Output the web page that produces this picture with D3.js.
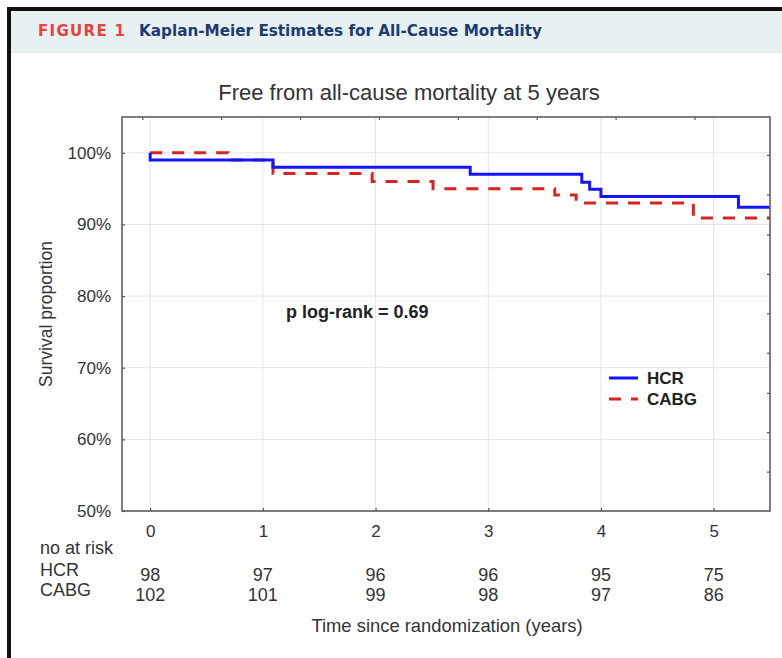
<!DOCTYPE html>
<html>
<head>
<meta charset="utf-8">
<script src="https://cdn.jsdelivr.net/npm/d3@7"></script>
<style>
  html, body { margin: 0; padding: 0; background: #fff; }
  svg { display: block; font-family: "Liberation Sans", Arial, sans-serif; }
</style>
</head>
<body>
<div id="chart"></div>
<script>
// Chart data
const years = [0, 1, 2, 3, 4, 5];
const yTicks = [50, 60, 70, 80, 90, 100];
const topMinorTicks = [-0.07, 0.63, 1.33, 2.03, 2.73, 3.43, 4.13, 4.83];
const rightMinorTicks = [99.7, 94.2, 88.6, 83.1, 77.6, 72.1, 66.5, 61.0, 55.5];

const hcrTime = [0, 0, 1.09, 2.84, 3.83, 3.90, 4.00, 5.22, 5.5];
const hcrSurv = [100, 99.0, 98.0, 97.0, 95.9, 94.9, 93.9, 92.4, 92.4];
const cabgTime = [0, 0.69, 1.09, 1.97, 2.51, 3.59, 3.78, 4.82, 5.5];
const cabgSurv = [100, 99.0, 97.1, 96.0, 95.0, 94.1, 93.0, 90.9, 90.9];

const riskHCR = [98, 97, 96, 96, 95, 75];
const riskCABG = [102, 101, 99, 98, 97, 86];

const W = 782, H = 658;
const plot = { left: 122, right: 770, top: 117, bottom: 511 };

const svg = d3.select('#chart')
  .append('svg')
  .attr('width', W)
  .attr('height', H);

// Journal frame + header band
svg.append('rect')
  .attr('x', 11).attr('y', 11)
  .attr('width', W).attr('height', 42)
  .attr('fill', '#e8f1f1');
svg.append('path')
  .attr('d', `M9,${H + 5} L9,9 L${W + 5},9`)
  .attr('fill', 'none')
  .attr('stroke', '#111')
  .attr('stroke-width', 4);

svg.append('text')
  .attr('x', 38).attr('y', 36)
  .attr('font-family', '"DejaVu Sans", sans-serif')
  .attr('font-weight', 'bold')
  .attr('font-size', 15)
  .attr('textLength', 87)
  .attr('lengthAdjust', 'spacing')
  .attr('fill', '#e8403a')
  .text('FIGURE 1');
svg.append('text')
  .attr('x', 139).attr('y', 36)
  .attr('font-family', '"DejaVu Sans", sans-serif')
  .attr('font-weight', 'bold')
  .attr('font-size', 16)
  .attr('textLength', 403)
  .attr('lengthAdjust', 'spacingAndGlyphs')
  .attr('fill', '#1d3b6f')
  .text('Kaplan-Meier Estimates for All-Cause Mortality');

// Scales
const x = d3.scaleLinear().domain([-0.25, 5.5]).range([plot.left, plot.right]);
const y = d3.scaleLinear().domain([50, 105]).range([plot.bottom, plot.top]);

const g = svg.append('g');

// Gridlines
g.selectAll('.vgrid')
  .data(years)
  .enter()
  .append('line')
  .attr('class', 'vgrid')
  .attr('x1', d => x(d)).attr('x2', d => x(d))
  .attr('y1', plot.top).attr('y2', plot.bottom)
  .attr('stroke', '#e4e4e4')
  .attr('stroke-width', 1);
g.selectAll('.hgrid')
  .data(yTicks)
  .enter()
  .append('line')
  .attr('class', 'hgrid')
  .attr('x1', plot.left).attr('x2', plot.right)
  .attr('y1', d => y(d)).attr('y2', d => y(d))
  .attr('stroke', '#e4e4e4')
  .attr('stroke-width', 1);

// Survival curves
svg.append('clipPath').attr('id', 'plot-clip')
  .append('rect')
  .attr('x', plot.left).attr('y', plot.top)
  .attr('width', plot.right - plot.left)
  .attr('height', plot.bottom - plot.top);

const step = d3.line()
  .x(d => x(d[0]))
  .y(d => y(d[1]))
  .curve(d3.curveStepAfter);

g.append('path')
  .datum(d3.zip(cabgTime, cabgSurv))
  .attr('d', step)
  .attr('clip-path', 'url(#plot-clip)')
  .attr('fill', 'none')
  .attr('stroke', '#d92323')
  .attr('stroke-width', 3)
  .attr('stroke-dasharray', '12,10');

g.append('path')
  .datum(d3.zip(hcrTime, hcrSurv))
  .attr('d', step)
  .attr('clip-path', 'url(#plot-clip)')
  .attr('fill', 'none')
  .attr('stroke', '#1414ff')
  .attr('stroke-width', 3);

// Axes
const axisColor = '#555';
const labelColor = '#333';

const xAxis = g.append('g')
  .attr('transform', `translate(0,${plot.bottom})`)
  .call(d3.axisBottom(x).tickValues(years).tickFormat(d3.format('d'))
    .tickSize(-3).tickPadding(14).tickSizeOuter(0));
const yAxis = g.append('g')
  .attr('transform', `translate(${plot.left},0)`)
  .call(d3.axisLeft(y).tickValues(yTicks).tickFormat(d => d + '%')
    .tickSize(-3).tickPadding(11).tickSizeOuter(0));
const topAxis = g.append('g')
  .attr('transform', `translate(0,${plot.top})`)
  .call(d3.axisTop(x).tickValues(topMinorTicks).tickSize(-3).tickFormat('').tickSizeOuter(0));
const rightAxis = g.append('g')
  .attr('transform', `translate(${plot.right},0)`)
  .call(d3.axisRight(y).tickValues(rightMinorTicks).tickSize(-3).tickFormat('').tickSizeOuter(0));

[xAxis, yAxis, topAxis, rightAxis].forEach(a => {
  a.select('.domain').remove();
  a.selectAll('.tick line').attr('stroke', axisColor).attr('stroke-width', 1.2);
  a.selectAll('.tick text')
    .attr('fill', labelColor)
    .attr('font-size', 17)
    .attr('font-family', '"Liberation Sans", Arial, sans-serif');
});

g.append('rect')
  .attr('x', plot.left).attr('y', plot.top)
  .attr('width', plot.right - plot.left)
  .attr('height', plot.bottom - plot.top)
  .attr('fill', 'none')
  .attr('stroke', axisColor)
  .attr('stroke-width', 1.5);

// Titles
svg.append('text')
  .attr('x', 409).attr('y', 100)
  .attr('text-anchor', 'middle')
  .attr('font-size', 22)
  .attr('fill', labelColor)
  .text('Free from all-cause mortality at 5 years');

svg.append('text')
  .attr('transform', `translate(52,${(plot.top + plot.bottom) / 2}) rotate(-90)`)
  .attr('text-anchor', 'middle')
  .attr('font-size', 17.5)
  .attr('fill', labelColor)
  .text('Survival proportion');

svg.append('text')
  .attr('x', 447).attr('y', 632)
  .attr('text-anchor', 'middle')
  .attr('font-size', 18.4)
  .attr('fill', labelColor)
  .text('Time since randomization (years)');

// Annotation
svg.append('text')
  .attr('x', 286).attr('y', 318)
  .attr('font-size', 18)
  .attr('font-weight', 'bold')
  .attr('fill', '#222')
  .text('p log-rank = 0.69');

// Legend
const legend = svg.append('g').attr('transform', 'translate(609,378)');
legend.append('line')
  .attr('x1', 0).attr('x2', 29).attr('y1', 0).attr('y2', 0)
  .attr('stroke', '#1414ff').attr('stroke-width', 3);
legend.append('text')
  .attr('x', 38).attr('y', 6)
  .attr('font-size', 17).attr('font-weight', 'bold').attr('fill', '#222')
  .text('HCR');
legend.append('line')
  .attr('x1', 0).attr('x2', 29).attr('y1', 21).attr('y2', 21)
  .attr('stroke', '#d92323').attr('stroke-width', 3)
  .attr('stroke-dasharray', '12,10');
legend.append('text')
  .attr('x', 38).attr('y', 27)
  .attr('font-size', 17).attr('font-weight', 'bold').attr('fill', '#222')
  .text('CABG');

// Number at risk table
const risk = svg.append('g').attr('font-size', 18).attr('fill', labelColor);
risk.append('text').attr('x', 40).attr('y', 554).text('no at risk');
risk.append('text').attr('x', 40).attr('y', 576).text('HCR');
risk.append('text').attr('x', 40).attr('y', 596).text('CABG');

risk.selectAll('.risk-hcr')
  .data(d3.zip(years, riskHCR))
  .enter()
  .append('text')
  .attr('class', 'risk-hcr')
  .attr('x', d => x(d[0]))
  .attr('y', 581)
  .attr('text-anchor', 'middle')
  .text(d => d[1]);
risk.selectAll('.risk-cabg')
  .data(d3.zip(years, riskCABG))
  .enter()
  .append('text')
  .attr('class', 'risk-cabg')
  .attr('x', d => x(d[0]))
  .attr('y', 601)
  .attr('text-anchor', 'middle')
  .text(d => d[1]);
</script>
</body>
</html>
